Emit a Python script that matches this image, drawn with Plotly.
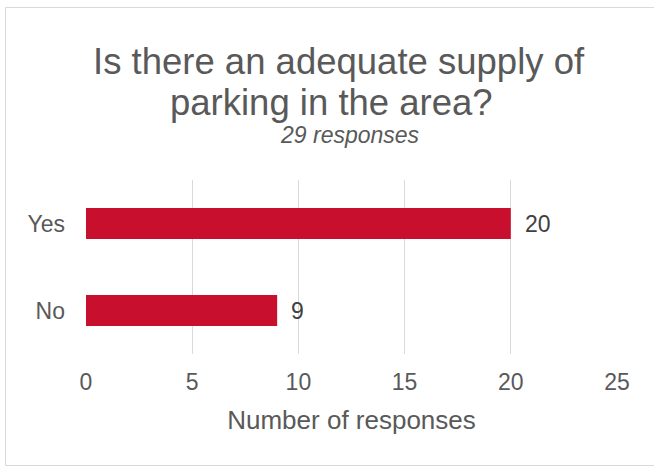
import plotly.graph_objects as go

categories = ["Yes", "No"]
values = [20, 9]
x_ticks = [0, 5, 10, 15, 20, 25]
title_lines = ["Is there an adequate supply of", "parking in the area?"]
subtitle_text = "29 responses"
x_title = "Number of responses"

W, H = 654, 466
L, R, T, B = 86, 37, 180, 112
PW, PH = W - L - R, H - T - B

def px_x(p):
    return (p - L) / PW

def px_y(p):
    return (H - B - p) / PH

FONT = "Liberation Sans, Arial, sans-serif"
BAR = "#C8102E"
GRID = "#D9D9D9"

fig = go.Figure()
fig.add_trace(go.Bar(
    x=values, y=categories, orientation="h",
    marker=dict(color=BAR, line=dict(width=0)),
    hoverinfo="skip",
))

for c, v in zip(categories, values):
    fig.add_annotation(x=v, y=c, xref="x", yref="y", text=str(v),
                       showarrow=False, xanchor="left", yanchor="middle",
                       xshift=12, font=dict(family=FONT, size=23, color="#404040"))

for line, ypx, xpx in zip(title_lines, [61, 102], [339, 331]):
    fig.add_annotation(x=px_x(xpx), y=px_y(ypx), xref="paper", yref="paper",
                       text=line, showarrow=False, xanchor="center", yanchor="middle",
                       font=dict(family=FONT, size=36.5, color="#595959"))
fig.add_annotation(x=px_x(350), y=px_y(135), xref="paper", yref="paper",
                   text="<i>" + subtitle_text + "</i>", showarrow=False,
                   xanchor="center", yanchor="middle",
                   font=dict(family=FONT, size=23, color="#595959"))

# chart border (top, left, bottom)
for x0, y0, x1, y1 in [(5.5, 7.5, 700, 7.5), (5.5, 7.5, 5.5, 465.5), (5.5, 465.5, 700, 465.5)]:
    fig.add_shape(type="line", xref="paper", yref="paper",
                  x0=px_x(x0), y0=px_y(y0), x1=px_x(x1), y1=px_y(y1),
                  line=dict(color=GRID, width=1), layer="below")

fig.update_layout(
    width=W, height=H,
    margin=dict(l=L, r=R, t=T, b=B),
    paper_bgcolor="white", plot_bgcolor="white",
    showlegend=False,
    bargap=0.644,
    font=dict(family=FONT, color="#595959"),
    xaxis=dict(range=[0, 25], tickvals=x_ticks, showgrid=True, gridcolor=GRID, gridwidth=1,
               zeroline=False, showline=False, ticks="",
               tickfont=dict(family=FONT, size=23, color="#595959"),
               ticklabelstandoff=12,
               title=dict(text=x_title, font=dict(family=FONT, size=26, color="#595959"), standoff=16)),
    yaxis=dict(categoryorder="array", categoryarray=categories[::-1],
               showgrid=False, zeroline=False, showline=False, ticks="",
               tickfont=dict(family=FONT, size=23, color="#595959"),
               ticklabelstandoff=20),
)

fig.write_html("out.html", config={"displayModeBar": False},
               post_script="document.body.style.margin='0';")
